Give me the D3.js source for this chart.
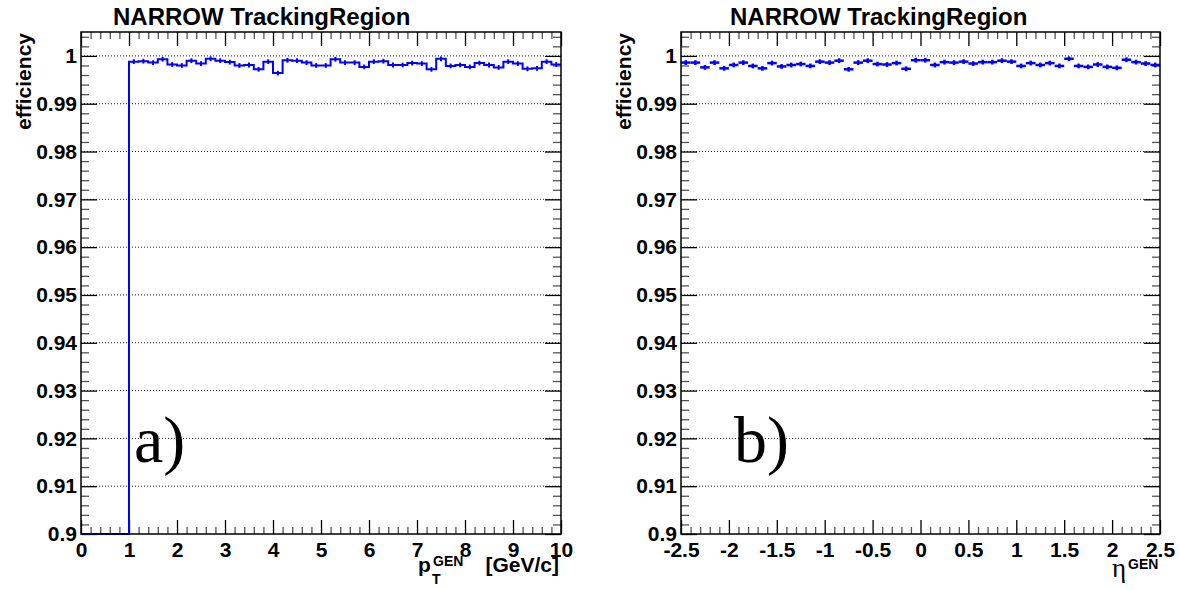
<!DOCTYPE html>
<html lang="en">
<head>
<meta charset="utf-8">
<title>NARROW TrackingRegion</title>
<style>
  body { margin: 0; background: #fff; }
  svg text { font-family: "Liberation Sans", Arial, sans-serif; font-weight: bold; }
  .serif { font-family: "Liberation Serif", "Times New Roman", serif !important; font-weight: normal !important; }
</style>
</head>
<body>
<div id="chart"></div>
<script src="https://cdnjs.cloudflare.com/ajax/libs/d3/7.8.5/d3.min.js"></script>
<script>
// efficiency vs pT, 50 bins of 0.2 GeV/c from 0 to 10 (first five bins empty)
var ptEff = [0, 0, 0, 0, 0,
  0.9988, 0.9989, 0.9986, 0.9993, 0.9982, 0.9980, 0.9990, 0.9984, 0.9994, 0.9990,
  0.9987, 0.9980, 0.9981, 0.9972, 0.9988, 0.9964, 0.9991, 0.9990, 0.9986, 0.9980,
  0.9980, 0.9993, 0.9986, 0.9986, 0.9977, 0.9988, 0.9989, 0.9981, 0.9981, 0.9985,
  0.9984, 0.9972, 0.9994, 0.9979, 0.9981, 0.9977, 0.9985, 0.9981, 0.9976, 0.9988,
  0.9984, 0.9973, 0.9974, 0.9988, 0.9982];
// efficiency vs eta, 50 bins of 0.1 from -2.5 to 2.5
var etaEff = [0.9986, 0.9986, 0.9976, 0.9986, 0.9974, 0.9981, 0.9986, 0.9979, 0.9974, 0.9985,
  0.9978, 0.9981, 0.9983, 0.9979, 0.9988, 0.9986, 0.9990, 0.9972, 0.9986, 0.9990,
  0.9983, 0.9982, 0.9985, 0.9973, 0.9991, 0.9991, 0.9981, 0.9987, 0.9986, 0.9988,
  0.9984, 0.9987, 0.9987, 0.9990, 0.9988, 0.9979, 0.9985, 0.9981, 0.9985, 0.9979,
  0.9994, 0.9979, 0.9977, 0.9982, 0.9977, 0.9975, 0.9992, 0.9987, 0.9984, 0.9981];
var effErr = 0.0005;

var yTicks = [0.9, 0.91, 0.92, 0.93, 0.94, 0.95, 0.96, 0.97, 0.98, 0.99, 1];
var yTickLabels = ["0.9", "0.91", "0.92", "0.93", "0.94", "0.95", "0.96", "0.97", "0.98", "0.99", "1"];
var ptTicks = [0, 1, 2, 3, 4, 5, 6, 7, 8, 9, 10];
var etaTicks = [-2.5, -2, -1.5, -1, -0.5, 0, 0.5, 1, 1.5, 2, 2.5];
var etaTickLabels = ["-2.5", "-2", "-1.5", "-1", "-0.5", "0", "0.5", "1", "1.5", "2", "2.5"];

var W = 1180, H = 590;
var frameTop = 32, frameBottom = 534;
var blue = "#0000ff";

var svg = d3.select("#chart").append("svg")
    .attr("width", W).attr("height", H);

var y = d3.scaleLinear().domain([0.9, 1.005]).range([frameBottom, frameTop]).clamp(true);

var yMinor = d3.range(0, 53).map(function(i){ return +(0.9 + i*0.002).toFixed(3); })
               .filter(function(v){ return yTicks.indexOf(v) < 0; });

function styleTicks(sel, col) {
    sel.select(".domain").remove();
    sel.selectAll("line").attr("stroke", col).attr("stroke-width", 1.3);
}

function drawPanel(cfg) {
    var x = d3.scaleLinear().domain(cfg.domain).range([cfg.left, cfg.right]);
    var g = svg.append("g");

    // grid
    g.selectAll("line.grid")
     .data(yTicks.slice(1))
     .enter().append("line")
     .attr("x1", cfg.left).attr("x2", cfg.right)
     .attr("y1", function(d){ return y(d); }).attr("y2", function(d){ return y(d); })
     .attr("stroke", "#222").attr("stroke-width", 1)
     .attr("stroke-dasharray", "1,2");

    // y axis left (labels + inward ticks)
    var ax = g.append("g").attr("transform", "translate(" + cfg.left + ",0)")
        .call(d3.axisLeft(y).tickValues(yTicks).tickSize(-16).tickPadding(4)
              .tickFormat(function(d, i){ return yTickLabels[i]; }));
    styleTicks(ax, "#000");
    ax.selectAll("text").attr("font-size", 21).attr("fill", "#000")
      .style("font-family", "Liberation Sans").style("font-weight", "bold");
    styleTicks(g.append("g").attr("transform", "translate(" + cfg.left + ",0)")
        .call(d3.axisLeft(y).tickValues(yMinor).tickSize(-8).tickFormat("")), "#555");

    // y axis right (ticks only)
    styleTicks(g.append("g").attr("transform", "translate(" + cfg.right + ",0)")
        .call(d3.axisRight(y).tickValues(yTicks).tickSize(-16).tickFormat("")), "#000");
    styleTicks(g.append("g").attr("transform", "translate(" + cfg.right + ",0)")
        .call(d3.axisRight(y).tickValues(yMinor).tickSize(-8).tickFormat("")), "#555");

    // x axis bottom
    var bx = g.append("g").attr("transform", "translate(0," + frameBottom + ")")
        .call(d3.axisBottom(x).tickValues(cfg.ticks).tickSize(-14).tickPadding(8)
              .tickFormat(function(d, i){ return cfg.labels[i]; }));
    styleTicks(bx, "#000");
    bx.selectAll("text").attr("font-size", 21).attr("fill", "#000")
      .style("font-family", "Liberation Sans").style("font-weight", "bold");
    styleTicks(g.append("g").attr("transform", "translate(0," + frameBottom + ")")
        .call(d3.axisBottom(x).tickValues(cfg.minor).tickSize(-7).tickFormat("")), "#555");

    // x axis top
    styleTicks(g.append("g").attr("transform", "translate(0," + frameTop + ")")
        .call(d3.axisTop(x).tickValues(cfg.ticks).tickSize(-14).tickFormat("")), "#000");
    styleTicks(g.append("g").attr("transform", "translate(0," + frameTop + ")")
        .call(d3.axisTop(x).tickValues(cfg.minor).tickSize(-7).tickFormat("")), "#555");

    // data
    cfg.plot(g, x);

    // frame
    g.append("rect")
     .attr("x", cfg.left).attr("y", frameTop)
     .attr("width", cfg.right - cfg.left).attr("height", frameBottom - frameTop)
     .attr("fill", "none").attr("stroke", "#000").attr("stroke-width", 1.5);

    // title
    g.append("text").attr("x", cfg.titleX).attr("y", 25)
     .attr("font-size", 24).text("NARROW TrackingRegion");

    // y title
    g.append("text")
     .attr("transform", "translate(" + (cfg.left - 50) + "," + 33 + ") rotate(-90)")
     .attr("text-anchor", "end").attr("font-size", 21).text("efficiency");

    // panel tag
    g.append("text").attr("class", "serif")
     .attr("x", cfg.left + 53).attr("y", 462)
     .attr("font-size", 66).text(cfg.tag);

    return x;
}

// panel a) : pT
drawPanel({
    left: 81, right: 561, domain: [0, 10], ticks: ptTicks,
    labels: ptTicks.map(String),
    minor: d3.range(0, 51).map(function(i){ return i*0.2; }).filter(function(v, i){ return i % 5 != 0; }),
    titleX: 113, tag: "a)",
    plot: function(g, x) {
        var bw = 10 / ptEff.length;
        var pts = [];
        ptEff.forEach(function(v, i){
            pts.push([x(i*bw), y(v)]);
            pts.push([x((i+1)*bw), y(v)]);
        });
        g.append("path").attr("d", d3.line()(pts))
         .attr("fill", "none").attr("stroke", blue).attr("stroke-width", 2);
        g.selectAll("line.err").data(ptEff.map(function(v, i){ return {v: v, c: (i+0.5)*bw}; })
                                       .filter(function(d){ return d.v > 0; }))
         .enter().append("line")
         .attr("x1", function(d){ return x(d.c); }).attr("x2", function(d){ return x(d.c); })
         .attr("y1", function(d){ return y(d.v - effErr); })
         .attr("y2", function(d){ return y(d.v + effErr); })
         .attr("stroke", blue).attr("stroke-width", 2);
    }
});

// p_T^GEN [GeV/c]
var xl = svg.append("text").attr("y", 572);
xl.append("tspan").attr("x", 418).attr("font-size", 21).text("p");
xl.append("tspan").attr("x", 432).attr("y", 584).attr("font-size", 14).text("T");
xl.append("tspan").attr("x", 433).attr("y", 566).attr("font-size", 14).text("GEN");
svg.append("text").attr("x", 559).attr("y", 572).attr("text-anchor", "end")
   .attr("font-size", 21).text("[GeV/c]");

// panel b) : eta
drawPanel({
    left: 681, right: 1160, domain: [-2.5, 2.5], ticks: etaTicks,
    labels: etaTickLabels,
    minor: d3.range(0, 51).map(function(i){ return -2.5 + i*0.1; }).filter(function(v, i){ return i % 5 != 0; }),
    titleX: 730, tag: "b)",
    plot: function(g, x) {
        var bw = 5 / etaEff.length;
        var m = g.selectAll("g.mk").data(etaEff).enter().append("g");
        m.append("line")
         .attr("x1", function(d, i){ return x(-2.5 + i*bw); })
         .attr("x2", function(d, i){ return x(-2.5 + (i+1)*bw); })
         .attr("y1", function(d){ return y(d); }).attr("y2", function(d){ return y(d); })
         .attr("stroke", blue).attr("stroke-width", 2.5);
        m.append("line")
         .attr("x1", function(d, i){ return x(-2.5 + (i+0.5)*bw); })
         .attr("x2", function(d, i){ return x(-2.5 + (i+0.5)*bw); })
         .attr("y1", function(d){ return y(d - effErr); })
         .attr("y2", function(d){ return y(d + effErr); })
         .attr("stroke", blue).attr("stroke-width", 2.5);
    }
});

// eta^GEN
svg.append("text").attr("class", "serif").attr("x", 1112).attr("y", 577)
   .attr("font-size", 27).text("\u03b7");
svg.append("text").attr("x", 1128).attr("y", 569).attr("font-size", 14).text("GEN");
</script>
</body>
</html>
